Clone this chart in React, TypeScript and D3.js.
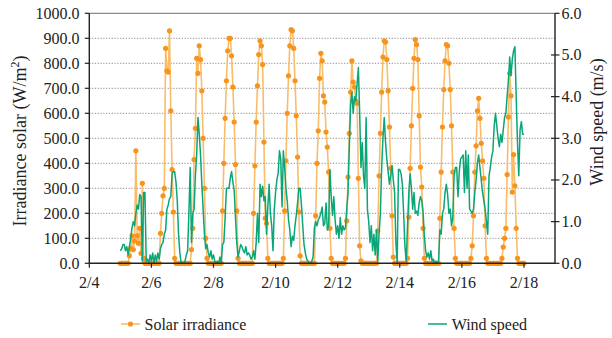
import React from "react";
import * as d3 from "d3";

// Hourly records, 2/5 00:00 through 2/18 00:00 (one row per day, 24 values)
const solarIrradiance: number[] = [
  // 2/5
  0, 0, 0, 0, 0, 0, 0, 30, 60, 110, 55, 90, 450, 110, 80, 140, 40, 320, 20, 0, 0, 0, 0, 0,
  // 2/6
  0, 0, 0, 0, 0, 0, 0, 120, 200, 270, 300, 860, 770, 765, 930, 610, 375, 205, 20, 0, 0, 0, 0, 0,
  // 2/7
  0, 0, 0, 0, 0, 0, 0, 55, 140, 415, 540, 820, 760, 870, 815, 690, 500, 300, 100, 20, 0, 0, 0, 0,
  // 2/8
  0, 0, 0, 0, 0, 0, 0, 210, 400, 580, 730, 850, 900, 900, 830, 705, 565, 395, 210, 20, 0, 0, 0, 0,
  // 2/9
  0, 0, 0, 0, 0, 0, 0, 200, 390, 565, 710, 835, 890, 870, 795, 485, 180, 160, 20, 0, 0, 0, 0, 0,
  // 2/10
  0, 0, 0, 0, 0, 0, 20, 210, 410, 600, 750, 870, 935, 930, 860, 730, 590, 425, 205, 30, 0, 0, 0, 0,
  // 2/11
  0, 0, 0, 0, 0, 0, 0, 190, 400, 530, 740, 840, 810, 670, 645, 525, 465, 365, 140, 20, 0, 0, 0, 0,
  // 2/12
  0, 0, 0, 0, 0, 0, 20, 170, 345, 520, 685, 810, 725, 705, 650, 640, 340, 70, 10, 0, 0, 0, 0, 0,
  // 2/13
  0, 0, 0, 0, 0, 0, 0, 130, 350, 520, 685, 825, 890, 885, 815, 690, 545, 380, 190, 25, 0, 0, 0, 0,
  // 2/14
  0, 0, 0, 0, 0, 0, 20, 185, 380, 550, 700, 820, 895, 875, 815, 590, 385, 305, 140, 20, 0, 0, 0, 0,
  // 2/15
  0, 0, 0, 0, 0, 0, 0, 180, 365, 545, 695, 810, 875, 870, 800, 695, 550, 365, 140, 20, 0, 0, 0, 0,
  // 2/16
  0, 0, 0, 0, 0, 0, 0, 20, 70, 190, 365, 470, 610, 660, 580, 480, 410, 340, 150, 20, 0, 0, 0, 0,
  // 2/17
  0, 0, 0, 0, 0, 0, 0, 20, 65, 100, 140, 355, 585, 760, 670, 285, 435, 310, 140, 20, 0, 0, 0, 0,
  // 2/18 00:00
  0,
];

const windSpeed: number[] = [
  // 2/5
  0.3, 0.35, 0.45, 0.45, 0.3, 0.4, 0.2, 0.4, 0.6, 0.85, 1.0, 0.9, 1.2, 1.4, 1.3, 1.65, 1.6, 0.05, 1.7, 1.7, 0.05, 0.1, 0.0, 0.2,
  // 2/6
  0.05, 0.25, 0.0, 0.2, 0.05, 0.25, 0.1, 0.35, 0.45, 0.5, 0.7, 0.8, 1.3, 1.4, 1.55, 1.6, 2.15, 2.2, 2.2, 1.95, 1.5, 0.7, 0.25, 0.0,
  // 2/7
  0.0, 0.0, 0.05, 0.2, 0.3, 1.2, 2.3, 0.5, 1.2, 1.3, 2.1, 2.6, 3.5, 3.1, 2.6, 1.9, 1.3, 0.7, 0.35, 0.45, 0.25, 0.15, 0.3, 0.1,
  // 2/8
  0.2, 0.05, 0.0, 0.05, 0.0, 0.15, 0.0, 0.45, 0.5, 1.1, 1.8, 1.8, 1.8, 2.05, 2.2, 1.95, 1.75, 1.1, 0.5, 0.15, 0.3, 0.45, 0.4, 0.3,
  // 2/9
  0.25, 0.4, 0.2, 0.25, 0.2, 0.1, 0.15, 0.3, 0.1, 0.5, 1.2, 0.5, 1.9, 1.6, 1.85, 1.5, 1.6, 0.7, 1.35, 1.9, 1.2, 0.9, 0.3, 1.3,
  // 2/10
  1.7, 2.0, 2.15, 2.7, 2.5, 1.35, 2.7, 2.3, 1.8, 1.5, 1.05, 0.8, 0.4, 0.65, 0.55, 0.9, 1.15, 1.45, 1.8, 1.8, 1.4, 0.9, 0.45, 0.25,
  // 2/11
  0.1, 0.05, 0.0, 0.0, 0.05, 0.15, 0.85, 1.0, 0.9, 1.05, 1.1, 1.2, 1.35, 0.9, 0.95, 1.45, 0.8, 0.9, 2.25, 1.6, 1.15, 1.6, 1.05, 0.7,
  // 2/12
  0.9, 0.6, 1.1, 0.7, 0.9, 0.8, 0.85, 1.3, 1.7, 2.8, 3.8, 4.1, 3.6, 4.0, 3.9, 4.3, 4.7, 3.6, 2.3, 2.9, 2.1, 1.8, 3.5, 1.3,
  // 2/13
  1.0, 0.5, 0.9, 0.3, 0.7, 0.2, 0.8, 0.05, 0.7, 1.2, 2.3, 3.0, 3.5, 2.9, 2.5, 2.2, 1.9, 2.1, 2.35, 2.0, 1.7, 0.5, 0.0, 2.25,
  // 2/14
  2.25, 2.15, 1.9, 1.2, 0.4, 0.05, 0.9, 1.7, 2.15, 1.8, 1.3, 1.7, 1.2, 1.25, 1.15, 1.45, 1.6, 1.5, 1.25, 0.65, 0.3, 0.15, 0.25, 0.1,
  // 2/15
  0.3, 0.05, 0.1, 0.0, 0.05, 0.0, 0.05, 0.8, 0.7, 1.2, 1.3, 1.7, 1.9, 1.65, 1.2, 1.3, 0.9, 1.1, 2.1, 2.3, 2.3, 1.6, 2.2, 2.5,
  // 2/16
  2.55, 2.6, 1.7, 2.7, 1.8, 2.6, 1.3, 1.25, 1.2, 1.3, 1.7, 2.0, 2.4, 2.6, 2.3, 2.0, 1.7, 1.5, 1.3, 1.0, 0.7, 2.1, 2.3, 2.55,
  // 2/17
  2.7, 3.3, 3.6, 3.3, 3.0, 2.8, 3.1, 2.9, 3.2, 3.5, 3.6, 4.0, 4.4, 4.95, 4.5, 4.9, 5.1, 5.2, 4.0, 2.9, 2.1, 3.2, 3.4, 3.1,
  // 2/18 00:00
  3.1,
];

const dateTickLabels = ["2/4", "2/6", "2/8", "2/10", "2/12", "2/14", "2/16", "2/18"];
const irradianceTicks = [0, 100, 200, 300, 400, 500, 600, 700, 800, 900, 1000];
const windTicks = [0, 1, 2, 3, 4, 5, 6];

const YEAR = 2019;
const firstRecord = new Date(YEAR, 1, 5, 0);
const parseTick = (s: string) => {
  const [m, d] = s.split("/").map(Number);
  return new Date(YEAR, m - 1, d);
};

const W = 612;
const H = 338;
const plot = { left: 89.3, right: 555, top: 13.3, bottom: 263.3 };

const ORANGE = "#f7941d";
const ORANGE_LINE = "#f9bd6a";
const GREEN = "#0aa678";
const FONT = "'Liberation Serif', 'Times New Roman', Times, serif";

export default function App() {
  const x = d3
    .scaleTime()
    .domain([new Date(YEAR, 1, 4), new Date(YEAR, 1, 19)])
    .range([plot.left, plot.right]);
  const yL = d3.scaleLinear().domain([0, 1000]).range([plot.bottom, plot.top]);
  const yR = d3.scaleLinear().domain([0, 6]).range([plot.bottom, plot.top]);

  const hourAt = (i: number) => d3.timeHour.offset(firstRecord, i);
  const solarPts: [Date, number][] = solarIrradiance.map((v, i) => [hourAt(i), v]);
  const windPts: [Date, number][] = windSpeed.map((v, i) => [hourAt(i), v]);

  const solarLine = d3
    .line<[Date, number]>()
    .x((d) => x(d[0]))
    .y((d) => yL(d[1]));
  const windLine = d3
    .line<[Date, number]>()
    .x((d) => x(d[0]))
    .y((d) => yR(d[1]));

  const fmtL = d3.format(".1f");

  return (
    <svg
      width={W}
      height={H}
      viewBox={`0 0 ${W} ${H}`}
      style={{ position: "absolute", left: 0, top: 0, background: "#fff" }}
      fontFamily={FONT}
    >
      {/* horizontal grid */}
      {irradianceTicks.slice(1, -1).map((t) => (
        <line
          key={"g" + t}
          x1={plot.left}
          x2={plot.right}
          y1={yL(t)}
          y2={yL(t)}
          stroke="#8a8a8a"
          strokeWidth={1}
          strokeDasharray="1.2,1.6"
        />
      ))}
      {/* top frame */}
      <line x1={plot.left} x2={plot.right} y1={plot.top} y2={plot.top} stroke="#8c8c8c" strokeWidth={1.3} />

      {/* solar irradiance */}
      <path d={solarLine(solarPts) ?? ""} fill="none" stroke={ORANGE_LINE} strokeWidth={1.6} strokeLinejoin="round" />
      {solarPts.map((p, i) => (
        <circle key={"s" + i} cx={x(p[0])} cy={yL(p[1])} r={2.6} fill={ORANGE} />
      ))}

      {/* wind speed */}
      <path d={windLine(windPts) ?? ""} fill="none" stroke={GREEN} strokeWidth={1.5} strokeLinejoin="round" />

      {/* axes */}
      <line x1={plot.left} x2={plot.left} y1={plot.top} y2={plot.bottom} stroke="#222" strokeWidth={1.4} />
      <line x1={plot.right} x2={plot.right} y1={plot.top} y2={plot.bottom} stroke="#222" strokeWidth={1.4} />
      <line x1={plot.left} x2={plot.right} y1={plot.bottom} y2={plot.bottom} stroke="#222" strokeWidth={1.4} />

      {irradianceTicks.map((t) => (
        <g key={"l" + t}>
          <line x1={plot.left - 4.5} x2={plot.left} y1={yL(t)} y2={yL(t)} stroke="#222" strokeWidth={1.2} />
          <text x={79.5} y={yL(t)} dy="0.34em" textAnchor="end" fontSize={16} fill="#222">
            {fmtL(t)}
          </text>
        </g>
      ))}

      {windTicks.map((t) => (
        <g key={"r" + t}>
          <line
            x1={t === 0 || t === 6 ? plot.right : plot.right - 4}
            x2={plot.right + 4.5}
            y1={yR(t)}
            y2={yR(t)}
            stroke="#222"
            strokeWidth={1.2}
          />
          <text x={561.5} y={yR(t)} dy="0.34em" textAnchor="start" fontSize={16} fill="#222">
            {t.toFixed(1)}
          </text>
        </g>
      ))}

      {dateTickLabels.map((s) => {
        const xv = x(parseTick(s));
        return (
          <g key={"x" + s}>
            <line x1={xv} x2={xv} y1={plot.bottom} y2={plot.bottom + 4.5} stroke="#222" strokeWidth={1.2} />
            <text x={xv} y={287.5} textAnchor="middle" fontSize={16} fill="#222">
              {s}
            </text>
          </g>
        );
      })}

      {/* axis titles */}
      <text transform={`translate(25.5,141) rotate(-90)`} textAnchor="middle" fontSize={18} fill="#222">
        Irradiance solar (W/m<tspan dy="-7" fontSize={12}>2</tspan>
        <tspan dy="7">)</tspan>
      </text>
      <text transform={`translate(603,122) rotate(-90)`} textAnchor="middle" fontSize={18} fill="#222">
        Wind speed (m/s)
      </text>

      {/* legend */}
      <line x1={121} x2={140} y1={324} y2={324} stroke={ORANGE_LINE} strokeWidth={1.6} />
      <circle cx={130.5} cy={324} r={2.6} fill={ORANGE} />
      <text x={144.5} y={329.5} fontSize={16} fill="#222">
        Solar irradiance
      </text>
      <line x1={428} x2={447} y1={324} y2={324} stroke={GREEN} strokeWidth={1.5} />
      <text x={451.7} y={329.5} fontSize={16} fill="#222">
        Wind speed
      </text>
    </svg>
  );
}
